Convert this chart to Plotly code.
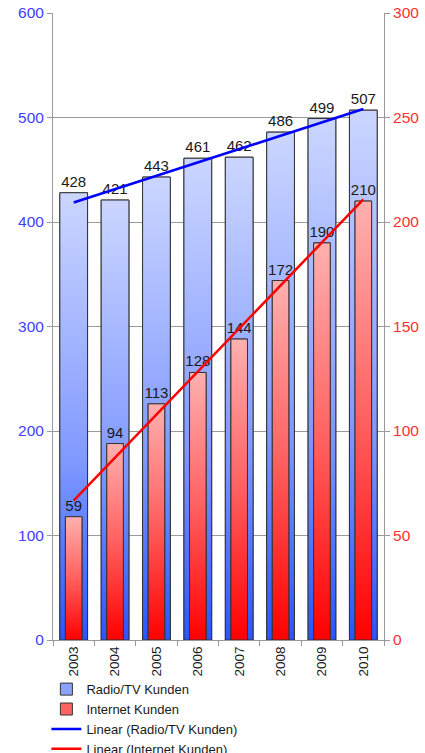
import numpy as np
import plotly.graph_objects as go

years = ["2003", "2004", "2005", "2006", "2007", "2008", "2009", "2010"]
radio_tv = [428, 421, 443, 461, 462, 486, 499, 507]
internet = [59, 94, 113, 128, 144, 172, 190, 210]

FONT = "Liberation Sans, Arial, sans-serif"
radio_scale = [[0, "#2a55ff"], [0.4, "#8099ff"], [1, "#cbd6ff"]]
inet_scale = [[0, "#ff0000"], [0.5, "#ff6060"], [1, "#ffb0b0"]]
RW, IW = 0.67, 0.40

idx = np.arange(len(years))
fig = go.Figure()

# Radio/TV bars (legend + labels)
fig.add_trace(go.Bar(
    x=idx, y=radio_tv, width=RW, name="Radio/TV Kunden", legendrank=1,
    marker=dict(color="#8aa2ff", line=dict(color="#333333", width=1)),
    text=[str(v) for v in radio_tv], textposition="outside", cliponaxis=False,
    constraintext="none",
    textfont=dict(size=15, color="#1a1a1a", family=FONT), yaxis="y"))
# gradient fills
for i, v in zip(idx, radio_tv):
    fig.add_trace(go.Scatter(
        x=[i - RW/2, i + RW/2, i + RW/2, i - RW/2, i - RW/2], y=[0, 0, v, v, 0],
        mode="lines", fill="toself", line=dict(color="#333333", width=1),
        fillgradient=dict(type="vertical", colorscale=radio_scale, start=0, stop=v),
        showlegend=False, hoverinfo="skip", yaxis="y"))
# trend radio
c = np.polyfit(idx, radio_tv, 1)
fig.add_trace(go.Scatter(
    x=[idx[0], idx[-1]], y=np.polyval(c, [idx[0], idx[-1]]), mode="lines",
    line=dict(color="#0000ff", width=2.5), name="Linear (Radio/TV Kunden)",
    legendrank=3, yaxis="y"))

# Internet bars
fig.add_trace(go.Bar(
    x=idx, y=internet, width=IW, name="Internet Kunden", legendrank=2,
    marker=dict(color="#ff6262", line=dict(color="#333333", width=1)),
    text=[str(v) for v in internet], textposition="outside", cliponaxis=False,
    constraintext="none",
    textfont=dict(size=15, color="#1a1a1a", family=FONT), yaxis="y2"))
for i, v in zip(idx, internet):
    fig.add_trace(go.Scatter(
        x=[i - IW/2, i + IW/2, i + IW/2, i - IW/2, i - IW/2], y=[0, 0, v, v, 0],
        mode="lines", fill="toself", line=dict(color="#333333", width=1),
        fillgradient=dict(type="vertical", colorscale=inet_scale, start=0, stop=v),
        showlegend=False, hoverinfo="skip", yaxis="y2"))
c2 = np.polyfit(idx, internet, 1)
fig.add_trace(go.Scatter(
    x=[idx[0], idx[-1]], y=np.polyval(c2, [idx[0], idx[-1]]), mode="lines",
    line=dict(color="#ff0000", width=2.5), name="Linear (Internet Kunden)",
    legendrank=4, yaxis="y2"))

fig.update_layout(
    width=425, height=753, margin=dict(l=53, r=41, t=13, b=113, autoexpand=False),
    paper_bgcolor="white", plot_bgcolor="white", barmode="overlay",
    hovermode=False, font=dict(family=FONT, color="#1a1a1a"),
    xaxis=dict(range=[-0.5, 7.5], tickmode="array", tickvals=list(idx), ticktext=years,
               tickangle=-90, tickfont=dict(size=13.5, color="#1a1a1a"),
               showline=True, linecolor="#999999", linewidth=1,
               showgrid=False, zeroline=False, ticks="", automargin=False,
               minor=dict(tickmode="array", tickvals=list(np.arange(-0.5, 8, 1.0)),
                          ticks="outside", ticklen=5, tickcolor="#999999", showgrid=False)),
    yaxis=dict(range=[0, 600], dtick=100, showgrid=True, gridcolor="#9a9a9a", gridwidth=1,
               showline=True, linecolor="#999999", zeroline=False, automargin=False,
               ticks="outside", ticklen=5, tickcolor="#999999",
               tickfont=dict(size=15.5, color="#4040ff")),
    yaxis2=dict(range=[0, 300], dtick=50, overlaying="y", side="right", showgrid=False,
                showline=True, linecolor="#999999", zeroline=False, automargin=False,
                ticks="outside", ticklen=5, tickcolor="#999999",
                tickfont=dict(size=15.5, color="#ff3030")),
    legend=dict(orientation="v", x=-0.02, xanchor="left", y=-0.0545, yanchor="top",
                font=dict(size=13, color="#1a1a1a"), itemwidth=30, tracegroupgap=0,
                bgcolor="rgba(0,0,0,0)"),
)

fig.write_html("out.html")
